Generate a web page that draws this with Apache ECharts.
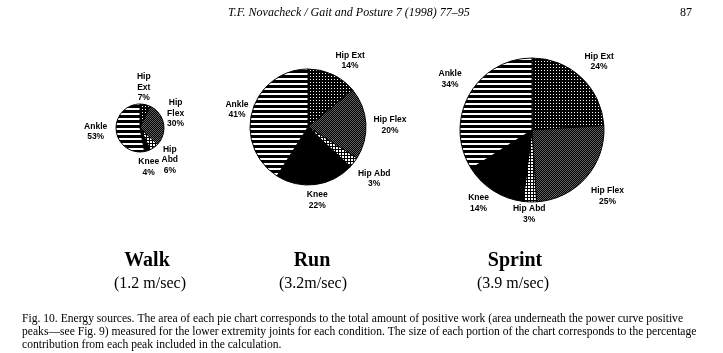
<!DOCTYPE html>
<html>
<head>
<meta charset="utf-8">
<script src="https://cdn.jsdelivr.net/npm/echarts@6/dist/echarts.min.js"></script>
<style>
  html, body { margin: 0; padding: 0; background: #fff; }
  #chart { width: 723px; height: 353px; }
</style>
</head>
<body>
<div id="chart"></div>
<script>
// data (percent of positive work per joint peak)
const joints = ['Hip Ext', 'Hip Flex', 'Hip Abd', 'Knee', 'Ankle'];
const walkPct = [7, 30, 6, 4, 53];
const runPct = [14, 20, 3, 22, 41];
const sprintPct = [24, 25, 3, 14, 34];
const conditions = ['Walk', 'Run', 'Sprint'];
const speeds = ['(1.2 m/sec)', '(3.2m/sec)', '(3.9 m/sec)'];

const header = 'T.F. Novacheck / Gait and Posture 7 (1998) 77\u201395';
const pageNo = '87';
const caption = [
  'Fig. 10. Energy sources. The area of each pie chart corresponds to the total amount of positive work (area underneath the power curve positive',
  'peaks\u2014see Fig. 9) measured for the lower extremity joints for each condition. The size of each portion of the chart corresponds to the percentage',
  'contribution from each peak included in the calculation.'
];

// little bitmap fills to imitate the printed hatching
function pattern(w, h, draw) {
  const c = document.createElement('canvas');
  c.width = w; c.height = h;
  const ctx = c.getContext('2d');
  draw(ctx);
  return { image: c, repeat: 'repeat' };
}
const fills = [
  // hip ext: white dots on black
  pattern(3, 3, ctx => { ctx.fillStyle = '#000'; ctx.fillRect(0, 0, 3, 3); ctx.fillStyle = '#fff'; ctx.fillRect(1, 1, 1, 1); }),
  // hip flex: fine dark grey checker
  pattern(2, 2, ctx => { ctx.fillStyle = '#000'; ctx.fillRect(0, 0, 2, 2); ctx.fillStyle = '#5e5e5e'; ctx.fillRect(0, 0, 1, 1); ctx.fillRect(1, 1, 1, 1); }),
  // hip abd: white cells in black grid
  pattern(3, 3, ctx => { ctx.fillStyle = '#fff'; ctx.fillRect(0, 0, 3, 3); ctx.fillStyle = '#000'; ctx.fillRect(2, 0, 1, 3); ctx.fillRect(0, 2, 3, 1); }),
  // knee: solid black
  '#000',
  // ankle: horizontal stripes
  pattern(1, 5, ctx => { ctx.fillStyle = '#fff'; ctx.fillRect(0, 0, 1, 5); ctx.fillStyle = '#000'; ctx.fillRect(0, 0, 1, 3); })
];

// small hand tweaks of label placement, [dx, dy] per slice
const walkNudge = [[-6, 3], [-3, -7], [3, -5], [-4, 0], [-4, 0]];
const runNudge = [[9, 4], [3, 3], [2, 2], [0, 0], [2, 4]];
const sprintNudge = [[3, 0], [4, 3], [0, -3], [-5, -3], [-2, -7]];

const pies = [
  { vals: walkPct, nudge: walkNudge, center: [140, 128], r: 24, split: true },
  { vals: runPct, nudge: runNudge, center: [308, 127], r: 58, split: false },
  { vals: sprintPct, nudge: sprintNudge, center: [532, 130], r: 72, split: false }
];

const titleX = [147, 312, 515];
const speedX = [150, 313, 513];

var chart = echarts.init(document.getElementById('chart'), null, { renderer: 'canvas' });

var option = {
  backgroundColor: '#fff',
  animation: false,
  series: pies.map(p => ({
    type: 'pie',
    center: p.center,
    radius: p.r,
    startAngle: 90,
    clockwise: true,
    silent: true,
    avoidLabelOverlap: false,
    itemStyle: { borderColor: '#000', borderWidth: 1 },
    label: {
      show: true,
      position: 'outside',
      color: '#000',
      fontFamily: 'Liberation Sans',
      fontWeight: 'bold',
      fontSize: 8.5,
      lineHeight: 10.5,
      formatter: prm => (p.split ? prm.name.replace(' ', '\n') : prm.name) + '\n' + prm.value + '%'
    },
    labelLine: { show: false, length: 6, length2: 0 },
    // centre each label just outside the rim, along the slice's middle direction
    labelLayout: function (prm) {
      const pts = prm.labelLinePoints;
      if (!pts) return {};
      let dx = pts[1][0] - pts[0][0], dy = pts[1][1] - pts[0][1];
      const len = Math.sqrt(dx * dx + dy * dy) || 1;
      dx /= len; dy /= len;
      const hw = prm.labelRect.width / 2, hh = prm.labelRect.height / 2;
      const d = 4 + hw * Math.abs(dx) + hh * Math.abs(dy);
      const n = p.nudge[prm.dataIndex];
      return {
        x: pts[0][0] + dx * d + n[0],
        y: pts[0][1] + dy * d + n[1],
        align: 'center',
        verticalAlign: 'middle'
      };
    },
    data: joints.map((j, i) => ({ name: j, value: p.vals[i], itemStyle: { color: fills[i] } }))
  })),
  graphic: [
    { type: 'text', left: 228, top: 7, style: { text: header, font: 'italic 12px "Liberation Serif"', fill: '#000' } },
    { type: 'text', left: 680, top: 7, style: { text: pageNo, font: '12px "Liberation Serif"', fill: '#000' } }
  ].concat(conditions.map((c, i) => ({
    type: 'text', x: titleX[i], y: 261,
    style: { text: c, font: 'bold 20px "Liberation Serif"', fill: '#000', align: 'center', verticalAlign: 'middle' }
  }))).concat(speeds.map((s, i) => ({
    type: 'text', x: speedX[i], y: 284,
    style: { text: s, font: '16px "Liberation Serif"', fill: '#000', align: 'center', verticalAlign: 'middle' }
  }))).concat(caption.map((line, i) => ({
    type: 'text', x: 22, y: 319 + i * 13,
    style: { text: line, font: '11.6px "Liberation Serif"', fill: '#000', align: 'left', verticalAlign: 'middle' }
  })))
};

chart.setOption(option);
window.addEventListener('resize', function () {
  chart.resize();
});
</script>
</body>
</html>
